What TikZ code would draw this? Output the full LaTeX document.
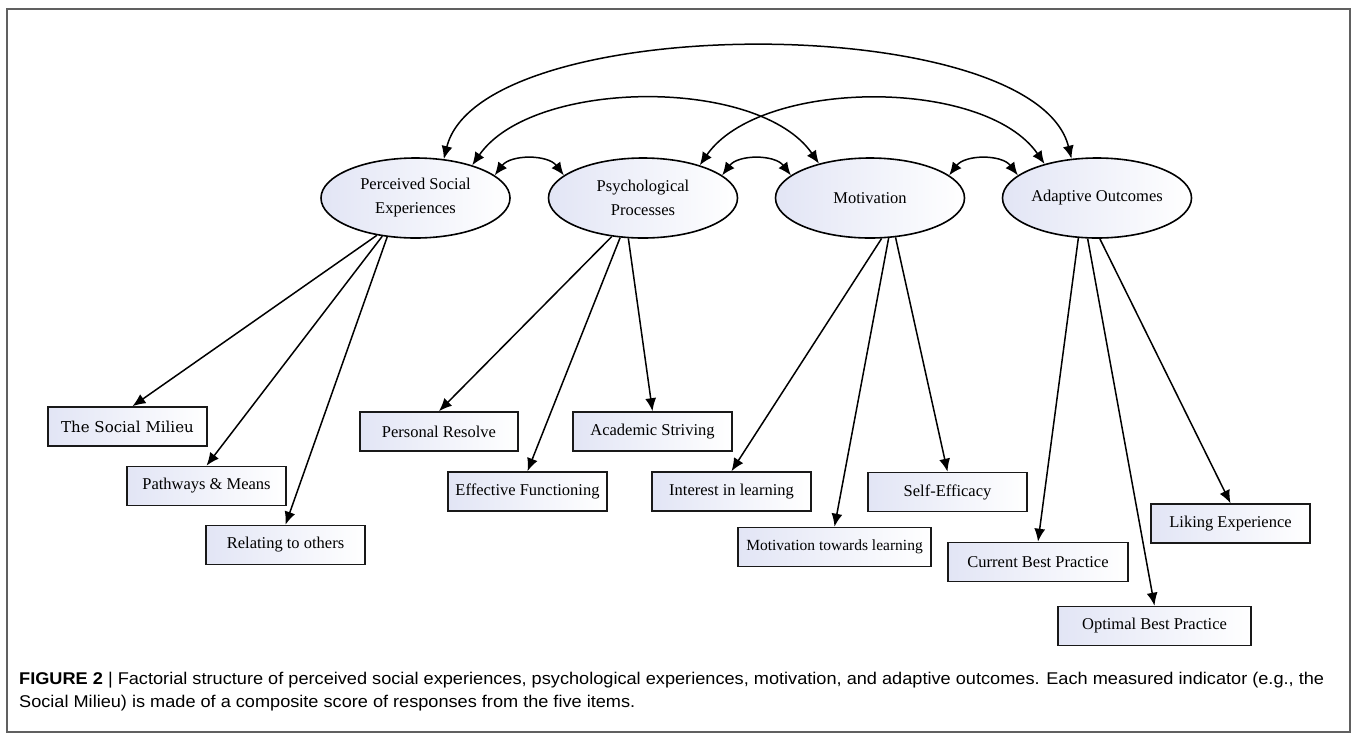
\documentclass[tikz,border=0pt]{standalone}
\usepackage{fontspec}
\setmainfont{Liberation Serif}
\newfontfamily\capfont{Liberation Sans}
\newfontfamily\smfont{DejaVu Serif}
\usetikzlibrary{shapes.geometric,arrows.meta}
\definecolor{lav}{RGB}{226,229,245}
\begin{document}
\begin{tikzpicture}[x=1pt,y=-1pt,
  latent/.style={ellipse,draw=black,line width=1.6pt,minimum width=189pt,minimum height=80pt,inner sep=0pt,left color=lav,right color=white,font=\fontsize{16.5}{24}\selectfont,align=center},
  ind/.style={rectangle,draw=black!90,line width=1.6pt,minimum height=39pt,inner sep=0pt,left color=lav,right color=white,font=\fontsize{16.5}{19}\selectfont},
  arr/.style={line width=1.5pt,-{Latex[length=13pt,width=11pt]}},
  darr/.style={line width=1.5pt,{Latex[length=13pt,width=11pt]}-{Latex[length=13pt,width=11pt]}}]
\useasboundingbox (0,0) rectangle (1357,740);
\draw[gray!75!black,line width=1.2pt] (7,9) rectangle (1350,732);
% latent factors
\node[latent] (pse) at (415.5,198) {Perceived Social\\Experiences};
\node[latent] (pp) at (643,198) {Psychological\\Processes};
\node[latent] (mot) at (870,198) {Motivation};
\node[latent] (ao) at (1097,198) {Adaptive Outcomes};
% indicators
\node[ind,minimum width=159pt] (sm) at (127.5,426.5) {\smfont\fontsize{15}{18}\selectfont The Social Milieu};
\node[ind,minimum width=159pt] (pm) at (206.5,486) {Pathways \& Means};
\node[ind,minimum width=159pt] (rel) at (285.5,545) {Relating to others};
\node[ind,minimum width=158pt] (pr) at (439,431.5) {Personal Resolve};
\node[ind,minimum width=159pt] (ef) at (527.5,491.5) {Effective Functioning};
\node[ind,minimum width=159pt] (as) at (652.5,431.5) {Academic Striving};
\node[ind,minimum width=159pt] (il) at (731.5,491.5) {Interest in learning};
\node[ind,minimum width=193pt] (mtl) at (834.5,547) {\fontsize{15.5}{19}\selectfont Motivation towards learning};
\node[ind,minimum width=159pt] (se) at (947.5,492) {Self-Efficacy};
\node[ind,minimum width=180pt] (cbp) at (1038,562) {Current Best Practice};
\node[ind,minimum width=193pt] (obp) at (1154.5,626) {Optimal Best Practice};
\node[ind,minimum width=159pt] (le) at (1230.5,523.5) {Liking Experience};
% loadings
\draw[arr] (pse.-136) -- ([xshift=5pt]sm.north);
\draw[arr] (pse.-131) -- (pm.north);
\draw[arr] (pse.-126) -- (rel.north);
\draw[arr] (pp.-129) -- (pr.north);
\draw[arr] (pp.-120) -- (ef.north);
\draw[arr] (pp.-110) -- (as.north);
\draw[arr] (mot.-74) -- (il.north);
\draw[arr] (mot.-65) -- (mtl.north);
\draw[arr] (mot.-57) -- (se.north);
\draw[arr] (ao.-115) -- (cbp.north);
\draw[arr] (ao.-103) -- (obp.north);
\draw[arr] (ao.-86) -- (le.north);
% covariances
\draw[darr] (pse.54) .. controls +(37,-149) and +(-37,-149) .. (ao.123);
\draw[darr] (pse.30) .. controls +(60,-87) and +(-60,-87) .. (mot.146);
\draw[darr] (pp.30) .. controls +(60,-87) and +(-60,-87) .. (ao.147);
\draw[darr] (pse.16) .. controls +(16,-21) and +(-16,-21) .. (pp.164);
\draw[darr] (pp.16) .. controls +(16,-21) and +(-16,-21) .. (mot.164);
\draw[darr] (mot.16) .. controls +(16,-21) and +(-16,-21) .. (ao.164);
% caption
\node[anchor=west,inner sep=0pt,font=\capfont\fontsize{17}{19}\selectfont] (cap1) at (19,680) {\resizebox{1305pt}{\height}{\textbf{FIGURE 2} | Factorial structure of perceived social experiences, psychological experiences, motivation, and adaptive outcomes. Each measured indicator (e.g., the}};
\node[anchor=west,inner sep=0pt,font=\capfont\fontsize{17}{19}\selectfont] (cap2) at (19,703) {\resizebox{616pt}{\height}{Social Milieu) is made of a composite score of responses from the five items.}};
\end{tikzpicture}
\end{document}
